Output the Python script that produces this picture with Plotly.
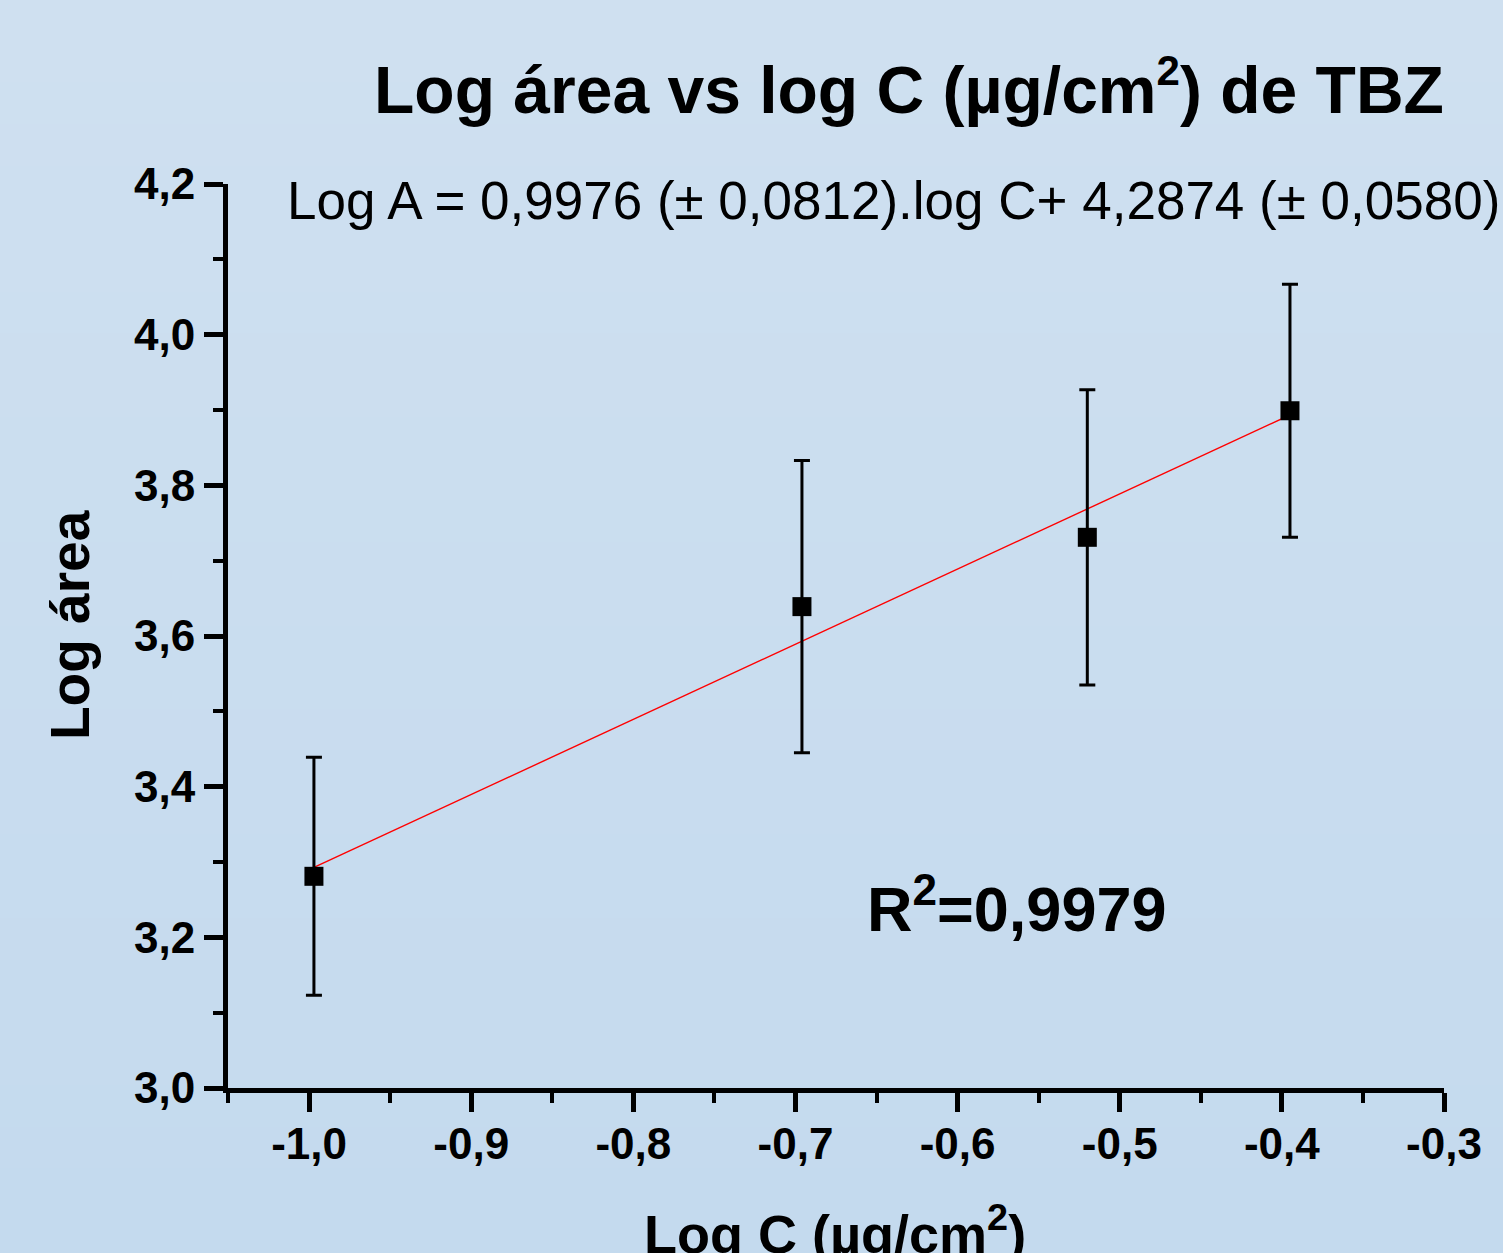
import plotly.graph_objects as go

# ---- data ----
log_c = [-0.997, -0.696, -0.520, -0.395]
log_area = [3.281, 3.639, 3.731, 3.899]
err = [0.158, 0.194, 0.196, 0.168]
slope = 0.9976
intercept = 4.2874

x_tickvals = [-1.0, -0.9, -0.8, -0.7, -0.6, -0.5, -0.4, -0.3]
x_ticktext = ["-1,0", "-0,9", "-0,8", "-0,7", "-0,6", "-0,5", "-0,4", "-0,3"]
y_tickvals = [3.0, 3.2, 3.4, 3.6, 3.8, 4.0, 4.2]
y_ticktext = ["3,0", "3,2", "3,4", "3,6", "3,8", "4,0", "4,2"]

title_text = "Log área vs log C (µg/cm<sup><span style='font-size:42px'>2</span></sup>) de TBZ"
eq_text = "Log A = 0,9976 (± 0,0812).log C+ 4,2874 (± 0,0580)"
r2_text = "R<sup>2</sup>=0,9979"
x_title = "Log C (µg/cm<sup>2</sup>)"
y_title = "Log área"

FONT = "Liberation Sans, Arial, sans-serif"

W, H = 1503, 1253
L, R, T, B = 228, 59, 184, 165
pw, ph = W - L - R, H - T - B


def px(xp):
    return (xp - L) / pw


def py(yp):
    return (H - B - yp) / ph


fit_x = [log_c[0], log_c[-1]]
fit_y = [slope * v + intercept for v in fit_x]

fig = go.Figure()
fig.add_trace(go.Scatter(
    x=fit_x, y=fit_y, mode="lines",
    line=dict(color="#ff0000", width=1.4),
    showlegend=False, hoverinfo="skip"))
fig.add_trace(go.Scatter(
    x=log_c, y=log_area, mode="markers",
    marker=dict(symbol="square", size=19, color="black"),
    error_y=dict(type="data", array=err, visible=True,
                 color="black", thickness=3, width=8),
    showlegend=False))

# soft vertical background gradient (full page)
n = 30
top = (207, 224, 240)
bot = (196, 218, 238)
band = H / n
for i in range(n):
    t = i / (n - 1)
    c = tuple(round(top[k] + (bot[k] - top[k]) * t) for k in range(3))
    ytop = i * band - 1
    ybot = (i + 1) * band + 1
    fig.add_shape(type="rect", xref="paper", yref="paper",
                  x0=px(-5), x1=px(W + 5), y0=py(ybot), y1=py(ytop),
                  fillcolor="rgb(%d,%d,%d)" % c, line=dict(width=0), layer="below")

axis_common = dict(
    showgrid=False, zeroline=False,
    showline=True, linecolor="black", linewidth=5,
    ticks="outside", ticklen=19, tickwidth=5, tickcolor="black",
    tickfont=dict(family=FONT, size=44, color="black", weight="bold"),
)

fig.update_xaxes(range=[-1.05, -0.3], tickmode="array",
                 tickvals=x_tickvals, ticktext=x_ticktext,
                 ticklabelstandoff=-6,
                 minor=dict(ticks="outside", ticklen=10, tickwidth=4,
                            tickcolor="black", dtick=0.05, tick0=-1.0),
                 **axis_common)
fig.update_yaxes(range=[3.0, 4.2], tickmode="array",
                 tickvals=y_tickvals, ticktext=y_ticktext,
                 minor=dict(ticks="outside", ticklen=10, tickwidth=4,
                            tickcolor="black", dtick=0.1, tick0=3.0),
                 **axis_common)

annotations = [
    dict(text="<b>" + title_text + "</b>", x=px(909), y=py(87),
         font=dict(family=FONT, size=66, color="black")),
    dict(text=eq_text, x=px(285), y=py(200), xanchor="left",
         font=dict(family=FONT, size=53, color="black")),
    dict(text="<b>" + r2_text + "</b>", x=px(1017), y=py(905),
         font=dict(family=FONT, size=63, color="black")),
    dict(text="<b>" + x_title + "</b>", x=px(835), y=py(1230),
         font=dict(family=FONT, size=54, color="black")),
    dict(text="<b>" + y_title + "</b>", x=px(70), y=py(625), textangle=-90,
         font=dict(family=FONT, size=55, color="black")),
]
for a in annotations:
    a.setdefault("xanchor", "center")
    a.update(xref="paper", yref="paper", yanchor="middle", showarrow=False)

fig.update_layout(
    width=W, height=H, autosize=False,
    margin=dict(l=L, r=R, t=T, b=B, pad=0),
    paper_bgcolor="#c9dcef", plot_bgcolor="rgba(0,0,0,0)",
    separators=",.",
    annotations=annotations,
    font=dict(family=FONT),
)

fig.write_html("out.html")
